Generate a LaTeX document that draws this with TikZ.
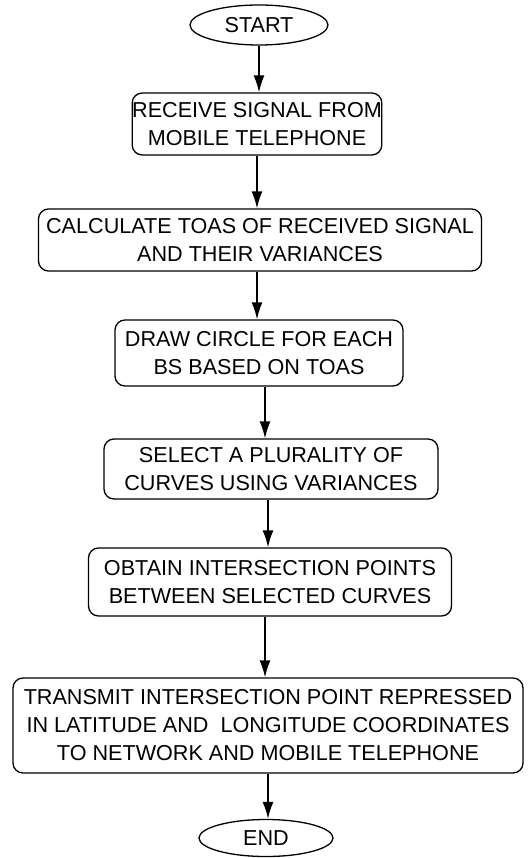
\documentclass[tikz,border=0pt]{standalone}
\usepackage{fontspec}
\setmainfont{Liberation Sans}
\usetikzlibrary{shapes.geometric,arrows.meta}

\tikzset{
    stepbox/.style={draw, line width=1.3pt, rounded corners=10pt, align=center, inner sep=0pt,
        font=\fontsize{21.6}{28}\selectfont},
    terminal/.style={draw, ellipse, line width=1.3pt, inner sep=0pt,
        font=\fontsize{21.6}{28}\selectfont},
    flow/.style={line width=1.6pt, -{Latex[length=17pt,width=11pt]}}
}

\begin{document}
\begin{tikzpicture}[x=1pt,y=-1pt]
        \useasboundingbox (0,0) rectangle (529,858);
        \fill[white] (0,0) rectangle (529,858);

        % Start / end
        \node[terminal, minimum width=138, minimum height=40] (start) at (259,25) {START};
        \node[terminal, minimum width=134, minimum height=37] (stop) at (266,838) {END};

        % Steps
        \node[stepbox, minimum width=248, minimum height=62] (recv) at (257,124)
            {RECEIVE SIGNAL FROM\\MOBILE TELEPHONE};
        \node[stepbox, minimum width=443, minimum height=62] (calc) at (260,240)
            {CALCULATE TOAS OF RECEIVED SIGNAL\\AND THEIR VARIANCES};
        \node[stepbox, minimum width=288, minimum height=66] (circ) at (259,353)
            {DRAW CIRCLE FOR EACH\\BS BASED ON TOAS};
        \node[stepbox, minimum width=334, minimum height=60] (sel) at (271,469)
            {SELECT A PLURALITY OF\\CURVES USING VARIANCES};
        \node[stepbox, minimum width=363, minimum height=68] (obt) at (270,582)
            {OBTAIN INTERSECTION POINTS\\BETWEEN SELECTED CURVES};
        \node[stepbox, minimum width=510, minimum height=95] (trans) at (268,725.5)
            {TRANSMIT INTERSECTION POINT REPRESSED\\IN LATITUDE AND\ \ LONGITUDE COORDINATES\\TO NETWORK AND MOBILE TELEPHONE};

        % Arrows
        \draw[flow] (start.south) -- (start.south |- recv.north);
        \draw[flow] (recv.south) -- (recv.south |- calc.north);
        \draw[flow] ([xshift=-3]calc.south) -- ([xshift=-3]calc.south |- circ.north);
        \draw[flow] ([xshift=6]circ.south) -- ([xshift=6]circ.south |- sel.north);
        \draw[flow] ([xshift=-3]sel.south) -- ([xshift=-3]sel.south |- obt.north);
        \draw[flow] ([xshift=-5]obt.south) -- ([xshift=-5]obt.south |- trans.north);
        \draw[flow] (trans.south) -- (trans.south |- stop.north);
    \end{tikzpicture}
\end{document}
